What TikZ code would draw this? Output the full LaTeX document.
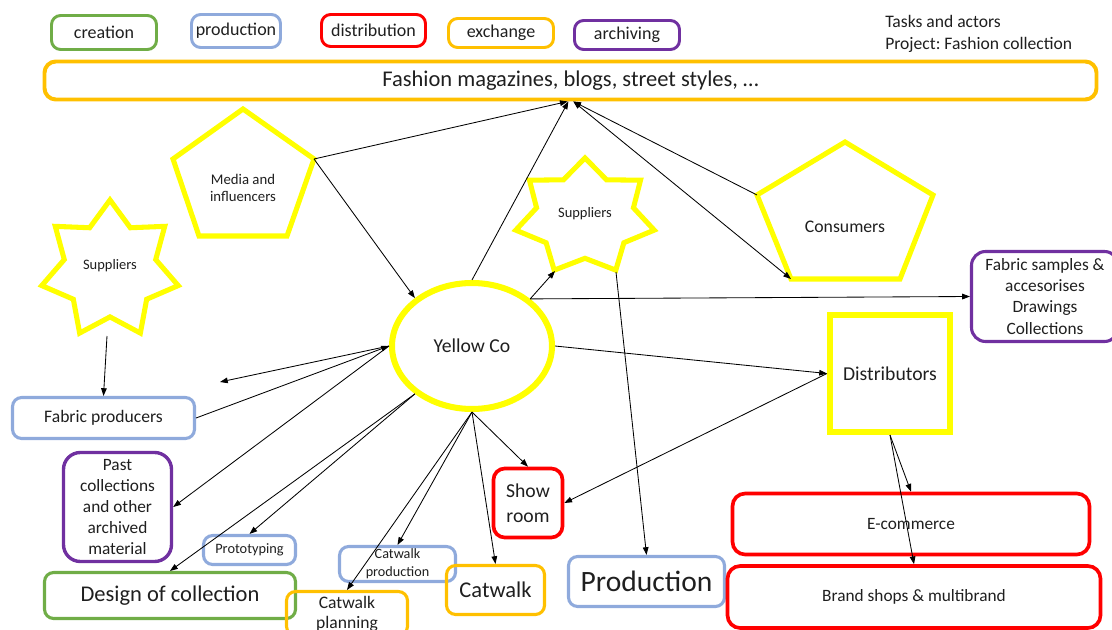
\documentclass[tikz,border=0pt]{standalone}
\usepackage{fontspec}
\setmainfont{Carlito}
\frenchspacing
\usetikzlibrary{arrows.meta,shapes.geometric}
\definecolor{cgreen}{HTML}{70AD47}
\definecolor{cblue}{HTML}{8FAADC}
\definecolor{cred}{HTML}{FF0000}
\definecolor{cgold}{HTML}{FFC000}
\definecolor{cpurple}{HTML}{7030A0}
\definecolor{cyellow}{HTML}{FFFF00}
% seven-pointed star: centre x, centre y, outer x-radius, outer y-radius, inner ratio
\newcommand\yellowstar[5]{%
  \draw[yline] plot[samples at={0,...,13}]
    ({#1+#3*(1-(1-#5)*mod(\x,2))*sin(\x*360/14)},
     {#2-#4*(1-(1-#5)*mod(\x,2))*cos(\x*360/14)}) -- cycle;}
\begin{document}
\begin{tikzpicture}[x=0.025cm,y=-0.025cm,
  box/.style={draw, rounded corners=6.5pt, line width=2.2pt, align=center, inner sep=0pt, text=black!88},
  sz/.style 2 args={minimum width=#1*0.025cm, minimum height=#2*0.025cm},
  fsz/.style 2 args={font=\fontsize{#1}{#2}\selectfont},
  yline/.style={draw=cyellow, line width=3.6pt},
  lbl/.style={align=center, inner sep=0pt, text=black!88},
  conn/.style={-{Triangle[length=5.5pt,width=4pt]}, line width=0.6pt},
  conntwo/.style={{Triangle[length=5.5pt,width=4pt]}-{Triangle[length=5.5pt,width=4pt]}, line width=0.6pt}
]
\useasboundingbox (0,0) rectangle (1112,630);
\clip (0,0) rectangle (1112,630);

% legend
\node[box, draw=cgreen, line width=2.1pt, sz={105}{34}, fsz={12.8}{15}] (lcre) at (104,32.5) {creation};
\node[box, draw=cblue, line width=2.1pt, sz={89}{33}, fsz={12.8}{15}] (lpro) at (236,31) {production};
\node[box, draw=cred, line width=2.1pt, sz={104}{32}, fsz={12.8}{15}] (ldis) at (373.5,30.5) {distribution};
\node[box, draw=cgold, line width=2.1pt, sz={105}{29}, fsz={12.8}{15}] (lexc) at (501,33) {exchange};
\node[box, draw=cpurple, line width=2.1pt, sz={105}{29}, fsz={12.8}{15}] (larc) at (627,35) {archiving};
\node[lbl, anchor=west, align=left, fsz={12.5}{15.6}] (tasks) at (885,34) {Tasks and actors\\Project: Fashion collection};

% exchange bar
\node[box, draw=cgold, line width=2.8pt, rounded corners=8pt, sz={1052}{38}, fsz={16}{18}] (fm) at (570.5,80.5) {Fashion magazines, blogs, street styles, …};

% actors
\coordinate (mT) at (243,109);
\coordinate (mR) at (314,159);
\coordinate (mBR) at (287,236);
\coordinate (mBL) at (199,236);
\coordinate (mL) at (173,159);
\draw[yline] (mT) -- (mR) -- (mBR) -- (mBL) -- (mL) -- cycle;
\node[lbl, fsz={10.5}{12.5}] (media) at (243,188) {Media and\\influencers};

\yellowstar{110}{270}{70}{70}{0.67}
\node[lbl, fsz={10.3}{12}] (supa) at (110,266) {Suppliers};
\coordinate (saB) at (107,336);

\yellowstar{585}{217}{71}{59}{0.7}
\node[lbl, fsz={10.3}{12}] (supb) at (585,214) {Suppliers};
\coordinate (sbBL) at (555,271);
\coordinate (sbBR) at (616,272);

\coordinate (cT) at (845,142);
\coordinate (cR) at (933,195);
\coordinate (cBR) at (900,279);
\coordinate (cBL) at (791,279);
\coordinate (cL) at (757,195);
\draw[yline] (cT) -- (cR) -- (cBR) -- (cBL) -- (cL) -- cycle;
\node[lbl, fsz={12.6}{15}] (cons) at (845,227) {Consumers};

\node[draw=cyellow, line width=4.3pt, ellipse, sz={160}{126}, lbl, fsz={14}{16}] (yc) at (472,346) {Yellow Co};
\node[draw=cyellow, line width=4.3pt, sz={120}{117}, lbl, fsz={14}{16}] (dist) at (890,373.5) {Distributors};

% tasks
\node[box, draw=cpurple, sz={147}{90}, rounded corners=10pt, fsz={12.3}{15}] (fsam) at (1045,296.5) {Fabric samples \&\\accesorises\\Drawings\\Collections};
\node[box, draw=cblue, sz={182}{41}, fsz={12.5}{15}] (fp) at (103.5,418) {Fabric producers};
\node[box, draw=cpurple, line width=2.4pt, sz={108}{109}, rounded corners=12pt, fsz={12.3}{15}] (pc) at (117.5,507) {Past\\collections\\and other\\archived\\material};
\node[box, draw=cblue, sz={92}{29}, fsz={10.2}{12}] (proto) at (249.5,550) {Prototyping};
\node[box, draw=cgreen, sz={251}{46}, fsz={16}{18}] (doc) at (170,595.5) {Design of collection};
\node[box, draw=cblue, sz={116}{35}, fsz={10.1}{12.6}] (cwp) at (397.5,564) {Catwalk\\production};
\node[box, draw=cgold, sz={121}{44}, fsz={12.5}{14.2}] (cwpl) at (347,613.5) {Catwalk\\planning};
\node[box, draw=cgold, sz={98}{49}, fsz={16}{18}] (cw) at (495.5,590) {Catwalk};
\node[box, draw=cred, line width=2.6pt, sz={69}{69}, rounded corners=8pt, fsz={14}{17.7}] (sr) at (528,503) {Show\\room};
\node[box, draw=cblue, sz={156}{50}, fsz={21}{24}] (prod) at (646.5,581.5) {Production};
\node[box, draw=cred, line width=2.6pt, sz={357}{61}, rounded corners=9pt, fsz={12.3}{15}] (ecom) at (911,524) {E-commerce};
\node[box, draw=cred, line width=2.6pt, sz={373}{62}, rounded corners=9pt, fsz={12.3}{15}] (brand) at (914,597) {Brand shops \& multibrand};

\coordinate (loose) at (220,382);

% connectors
\draw[conn] (mR) -- ([xshift=-2pt]fm.south);
\draw[conn] (mR) -- (yc.140);
\draw[conn] (yc.north) -- ([xshift=-1.5pt]fm.south);
\draw[conn] (cL) -- ([xshift=2pt]fm.south);
\draw[conntwo] ([xshift=2pt]fm.south) -- (cBL);
\draw[conn] (yc.39) -- (sbBL);
\draw[conn] (yc.39) -- (fsam.west);
\draw[conn] (yc.east) -- (dist.west);
\draw[conn] (sbBR) -- (prod.north);
\draw[conn] (dist.west) -- (sr.east);
\draw[conn] (dist.south) -- (ecom.north);
\draw[conn] (dist.south) -- (brand.north);
\draw[conn] (saB) -- (fp.north);
\draw[conn] (yc.west) -- (loose);
\draw[conn] (fp.east) -- (yc.west);
\draw[conn] (yc.west) -- (pc.east);
\draw[conn] (yc.220) -- (doc.north);
\draw[conn] (yc.220) -- (proto.north);
\draw[conn] (yc.south) -- (cwp.north);
\draw[conn] (yc.south) -- (cwpl.north);
\draw[conn] (yc.south) -- (cw.north);
\draw[conn] (yc.south) -- (sr.north);
\end{tikzpicture}
\end{document}
